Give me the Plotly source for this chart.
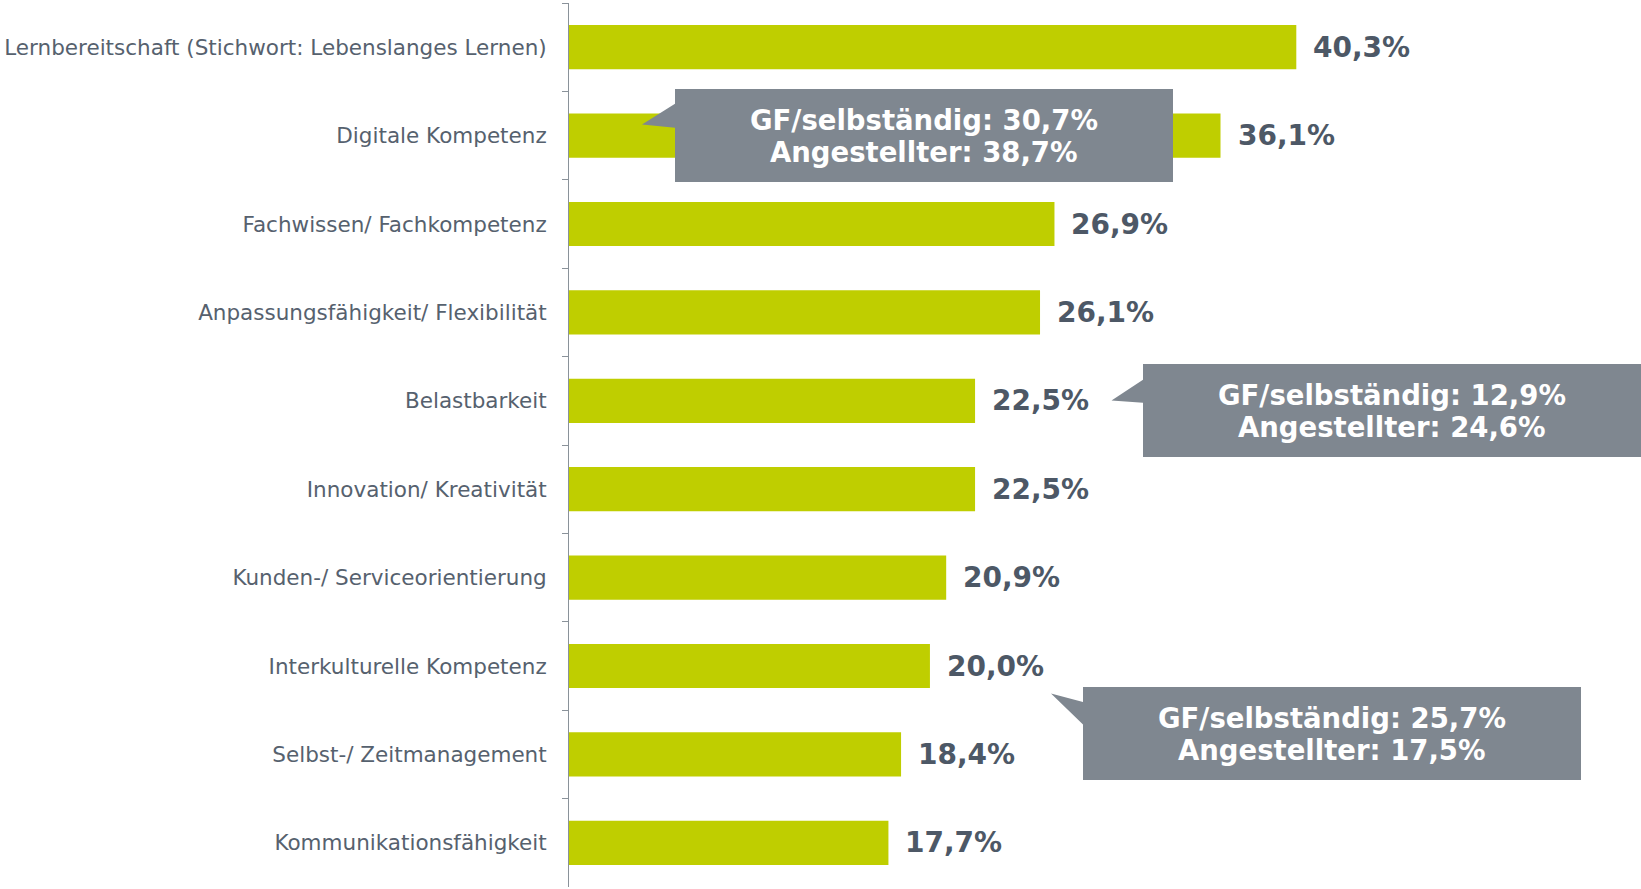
import plotly.graph_objects as go

categories = [
    "Lernbereitschaft (Stichwort: Lebenslanges Lernen)",
    "Digitale Kompetenz",
    "Fachwissen/ Fachkompetenz",
    "Anpassungsfähigkeit/ Flexibilität",
    "Belastbarkeit",
    "Innovation/ Kreativität",
    "Kunden-/ Serviceorientierung",
    "Interkulturelle Kompetenz",
    "Selbst-/ Zeitmanagement",
    "Kommunikationsfähigkeit",
]
values = [40.3, 36.1, 26.9, 26.1, 22.5, 22.5, 20.9, 20.0, 18.4, 17.7]

callout_texts = [
    ("GF/selbständig: 30,7%", "Angestellter: 38,7%"),
    ("GF/selbständig: 12,9%", "Angestellter: 24,6%"),
    ("GF/selbständig: 25,7%", "Angestellter: 17,5%"),
]

W, H = 1641, 889
ML, MR, MT, MB = 569, 0, 3, 2
X_MAX = 59.4
PW = W - ML - MR
PH = H - MT - MB
N = len(categories)


def px2x(px):
    return (px - ML) / PW * X_MAX


def py2y(py):
    return (py - MT) / PH * N - 0.5


def fmt(v):
    return f"{v:.1f}".replace(".", ",") + "%"


BAR = "#BFCE00"
LABEL = "#4D5866"
CAT = "#56616E"
BOX = "#7F8790"

fig = go.Figure()
fig.add_trace(go.Bar(
    x=values, y=categories, orientation="h",
    marker=dict(color=BAR, line=dict(width=0)),
    width=0.5, hoverinfo="skip",
))

annotations = []
for c, v in zip(categories, values):
    annotations.append(dict(
        x=v, y=c, xref="x", yref="y", text=fmt(v), showarrow=False,
        xanchor="left", yanchor="middle", xshift=15,
        font=dict(family="DejaVu Sans", size=28, color=LABEL, weight="bold"),
    ))

# callout geometry (pixel layout of the reference): box l, r, t, b; tip; joins
callouts = [
    dict(box=(675, 1173, 89, 182), tip=(642, 124.5), j1=103.8, j2=127.8),
    dict(box=(1143, 1641, 364, 457), tip=(1111.5, 400.5), j1=379.7, j2=402.7),
    dict(box=(1083, 1581, 687, 780), tip=(1051, 693.5), j1=702, j2=724.4),
]

shapes = []
for cb, (t1, t2) in zip(callouts, callout_texts):
    l, r, t, b = cb["box"]
    tx, ty = cb["tip"]
    pts = [(l, t), (r, t), (r, b), (l, b), (l, cb["j2"]), (tx, ty), (l, cb["j1"])]
    path = "M " + " L ".join(f"{px2x(px):.4f},{py2y(py):.4f}" for px, py in pts) + " Z"
    shapes.append(dict(type="path", path=path, xref="x", yref="y",
                       fillcolor=BOX, line=dict(width=0), layer="above"))
    cx = px2x((l + r) / 2)
    cy = (t + b) / 2
    for txt, dy in ((t1, -16), (t2, 16)):
        annotations.append(dict(
            x=cx, y=py2y(cy + dy), xref="x", yref="y", text=txt, showarrow=False,
            xanchor="center", yanchor="middle",
            font=dict(family="DejaVu Sans", size=27.5, color="white", weight="bold"),
        ))

fig.update_layout(
    width=W, height=H,
    margin=dict(l=ML, r=MR, t=MT, b=MB, pad=0),
    paper_bgcolor="white", plot_bgcolor="white",
    showlegend=False,
    bargap=0.5,
    annotations=annotations,
    shapes=shapes,
    xaxis=dict(range=[0, X_MAX], visible=False, fixedrange=True),
    yaxis=dict(
        autorange="reversed", showline=True, linecolor="#8A929A", linewidth=1,
        ticks="outside", ticklen=6, tickcolor="#8A929A", tickson="boundaries",
        showgrid=False, ticklabelstandoff=17, fixedrange=True,
        tickfont=dict(family="DejaVu Sans", size=21.5, color=CAT),
    ),
)

fig.write_html(
    "out.html",
    config={"displayModeBar": False, "staticPlot": True},
    post_script="document.body.style.margin='0';document.body.style.overflow='hidden';",
)
